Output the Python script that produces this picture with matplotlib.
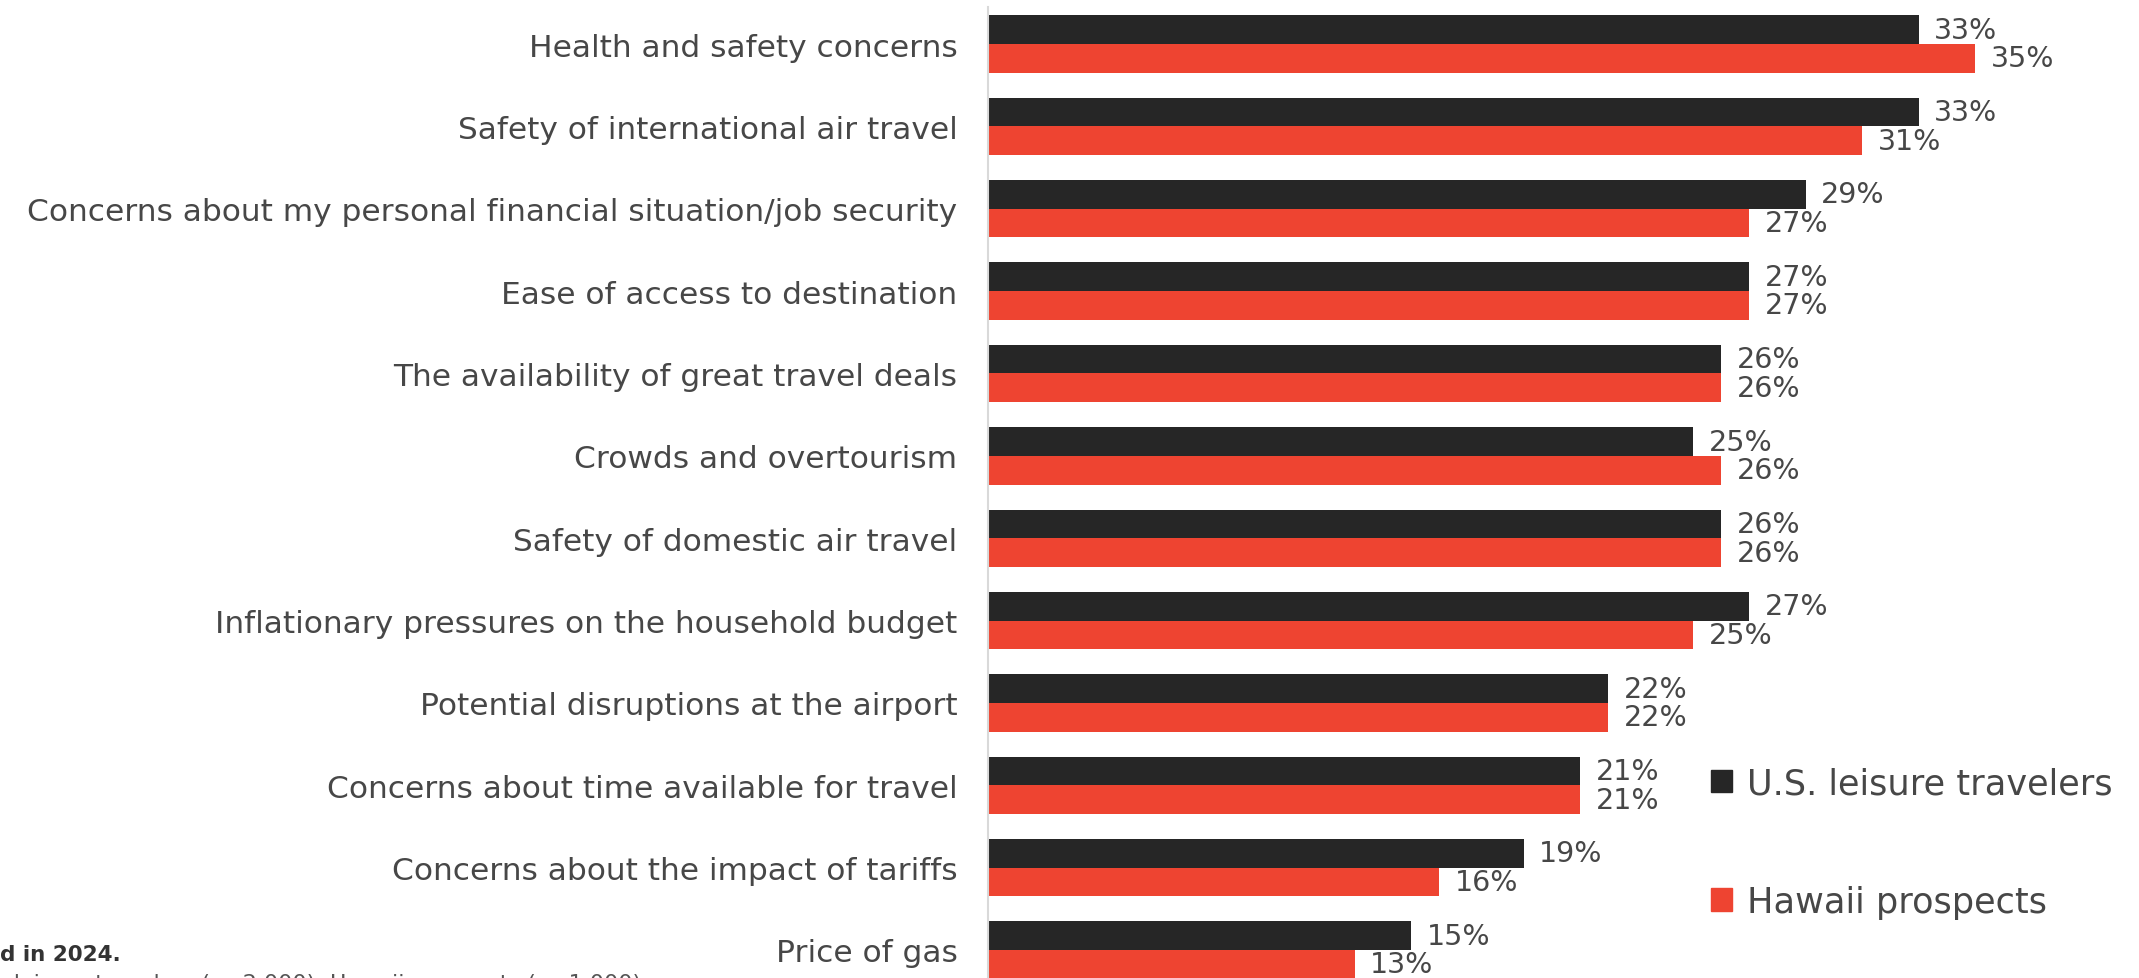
import numpy as np
import matplotlib.pyplot as plt
from matplotlib.patches import Patch

categories = [
    "Health and safety concerns",
    "Safety of international air travel",
    "Concerns about my personal financial situation/job security",
    "Ease of access to destination",
    "The availability of great travel deals",
    "Crowds and overtourism",
    "Safety of domestic air travel",
    "Inflationary pressures on the household budget",
    "Potential disruptions at the airport",
    "Concerns about time available for travel",
    "Concerns about the impact of tariffs",
    "Price of gas",
]
us_leisure = [33, 33, 29, 27, 26, 25, 26, 27, 22, 21, 19, 15]
hawaii_prospects = [35, 31, 27, 27, 26, 26, 26, 25, 22, 21, 16, 13]
series_names = ["U.S. leisure travelers", "Hawaii prospects"]

DARK = "#262626"
RED = "#ee4431"
TEXT = "#474747"

plt.rcParams["font.family"] = ["DejaVu Sans"]

W, H = 2139, 979
fig = plt.figure(figsize=(W / 100, H / 100), dpi=100)

# axes start where the bars start and run to the right edge
ax_left = 988 / W
ax = fig.add_axes([ax_left, 0, 1 - ax_left, 1])

y = np.arange(len(categories))
bar_h = 0.348
ax.barh(y - bar_h / 2, us_leisure, height=bar_h, color=DARK, label=series_names[0])
ax.barh(y + bar_h / 2, hawaii_prospects, height=bar_h, color=RED, label=series_names[1])

ax.set_xlim(0, (W - 988) / 28.2)
ax.set_ylim(11.34, -0.547)

for yi, v in zip(y, us_leisure):
    ax.text(v + 0.55, yi - bar_h / 2, f"{v}%", va="center", ha="left",
            fontsize=20.5, color=TEXT)
for yi, v in zip(y, hawaii_prospects):
    ax.text(v + 0.55, yi + bar_h / 2, f"{v}%", va="center", ha="left",
            fontsize=20.5, color=TEXT)

ax.set_yticks(y)
ax.set_yticklabels(categories, fontsize=22.5, color=TEXT)
ax.tick_params(axis="y", length=0, pad=22)
ax.set_xticks([])

for side in ["top", "right", "bottom"]:
    ax.spines[side].set_visible(False)
ax.spines["left"].set_color("#d9d9d9")
ax.spines["left"].set_linewidth(1.5)
ax.spines["left"].set_bounds(11.34, -0.45)

handles = [Patch(color=DARK), Patch(color=RED)]
leg = fig.legend(handles, series_names, loc="upper left",
                 bbox_to_anchor=(1693 / W, 1 - 750 / H), frameon=False,
                 fontsize=25.3, handlelength=0.6, handleheight=0.6,
                 handletextpad=0.45, labelspacing=2.4, borderpad=0)
for t in leg.get_texts():
    t.set_color(TEXT)

# footnote, partly running off the page
fig.text(0, 1 - 955 / H, "d in 2024.", ha="left", va="center",
         fontsize=15.5, fontweight="bold", color="#333333")
fig.text(641 / W, 1 - 974 / H,
         "Base: leisure travelers (n=2,000); Hawaii prospects (n=1,000)",
         ha="right", va="top", fontsize=16, color="#555555")

fig.savefig("out.png", dpi=100)
